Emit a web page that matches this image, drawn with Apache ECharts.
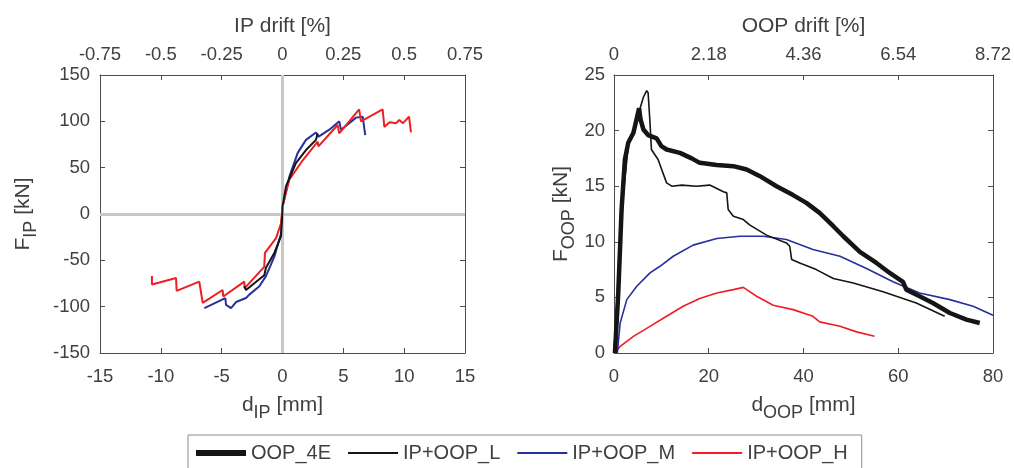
<!DOCTYPE html>
<html>
<head>
<meta charset="utf-8">
<script src="https://cdn.jsdelivr.net/npm/echarts@6/dist/echarts.min.js"></script>
<style>
  html, body { margin: 0; padding: 0; background: #fff; }
  #chart { width: 1014px; height: 468px; }
</style>
</head>
<body>
<div id="chart"></div>
<script>
// in-plane panel: displacement [mm] and force [kN]
const ipL_d = [-3.14, -3.0, -1.5, -1.36, -0.67, -0.12, -0.04, 0, 0.29, 1.1, 1.93, 2.75, 2.89]
const ipL_F = [-78, -82, -66, -58, -42, -24, -6, 8, 30, 55, 69, 80, 87]

const ipM_d = [-6.42, -4.7, -4.64, -4.23, -3.82, -3.0, -2.73, -1.9, -1.36, -0.67, -0.12, 0, 0.56, 1.25, 1.93, 2.75, 2.97, 3.85, 4.67, 4.8, 5.49, 6.04, 6.59, 6.8]
const ipM_F = [-101.5, -90.7, -98, -101.5, -95, -90.7, -87, -78, -67, -46, -21, 8, 40, 66, 80, 88, 83.5, 91, 100, 91, 98, 104, 105, 85]

const ipH_d = [-10.73, -10.73, -8.75, -8.7, -6.84, -6.56, -4.92, -4.87, -3.14, -3.11, -1.5, -1.44, -0.53, -0.12, 0, 0.56, 1.66, 2.89, 2.95, 4.53, 4.66, 6.3, 6.45, 8.23, 8.37, 8.8, 9.33, 9.6, 9.9, 10.4, 10.56]
const ipH_F = [-67, -76, -69, -83, -73, -96, -82, -89, -73, -80, -57, -42, -26, -10, 8, 37, 58, 78, 73, 96, 87, 113, 100, 113, 94, 99, 98, 101.5, 98, 105, 88]

// out-of-plane panel
const oop4E_d = [0.2, 0.9, 1.6, 2.3, 3.0, 4.1, 5.3, 5.6, 6.2, 7.2, 9, 10, 11.1, 13.9, 16.4, 18.1, 21.7, 25.2, 28, 30.8, 34.3, 37.8, 40.6, 43.4, 46.3, 48.4, 51.9, 55.4, 58.2, 61, 61.7, 64.5, 67.3, 70.9, 74.4, 77.2]
const oop4E_F = [0, 5.4, 12.9, 17.4, 18.9, 19.8, 22, 21, 20.1, 19.6, 19.3, 18.6, 18.3, 18, 17.5, 17.1, 16.9, 16.8, 16.5, 15.9, 15, 14.2, 13.5, 12.6, 11.4, 10.5, 9.1, 8.1, 7.2, 6.4, 5.7, 5.1, 4.5, 3.6, 3.0, 2.7]

const oopL_d = [0, 0.9, 2, 3, 4.8, 6.2, 6.9, 7.2, 7.6, 7.9, 9.3, 11.1, 12.2, 14.3, 17.4, 20.2, 23.1, 23.8, 24.1, 25.2, 27.3, 28.7, 32.2, 36.4, 37.1, 37.5, 39.2, 42.7, 46.3, 50.5, 56.8, 63.8, 69.8]
const oopL_F = [0, 6.9, 14.4, 18.6, 21, 23, 23.6, 23.4, 20.7, 18.3, 17.4, 15.3, 15, 15.1, 15, 15.1, 14.5, 14.4, 12.9, 12.3, 12, 11.5, 10.6, 9.9, 9.6, 8.4, 8.1, 7.5, 6.7, 6.3, 5.5, 4.5, 3.3]

const oopM_d = [0.7, 1.3, 2.7, 4.8, 7.6, 9.7, 12.5, 16.7, 21.7, 26.6, 31.5, 36.4, 42, 47.7, 53.3, 58.9, 64.5, 70.9, 75.8, 80]
const oopM_F = [0, 2.7, 4.8, 6, 7.2, 7.8, 8.7, 9.7, 10.3, 10.5, 10.5, 10.2, 9.3, 8.7, 7.6, 6.4, 5.4, 4.8, 4.2, 3.4]

const oopH_d = [0.2, 1.3, 4.1, 7.6, 11.1, 14.6, 18.1, 21.7, 25.2, 27.3, 28, 30.1, 33.6, 37.8, 42, 43.4, 47.7, 51.2, 55]
const oopH_F = [0, 0.6, 1.5, 2.4, 3.3, 4.2, 4.9, 5.4, 5.7, 5.9, 5.7, 5.1, 4.3, 3.9, 3.3, 2.8, 2.4, 1.9, 1.5]

const legendNames = ['OOP_4E', 'IP+OOP_L', 'IP+OOP_M', 'IP+OOP_H']

const FONT = '"Liberation Sans", Arial, sans-serif'
const TXT = '#404040'
const FRAME = '#4d4d4d'

const zip = (xs, ys) => xs.map((x, i) => [x, ys[i]])
const fmt = (v) => String(Math.round(v * 100) / 100)

const nameRich = {
  a: { fontSize: 21, color: TXT, fontFamily: FONT, verticalAlign: 'top' },
  b: { fontSize: 18, color: TXT, fontFamily: FONT, padding: [9, 0, 0, 0] },
}

// common axis look: a closed box, ticks pointing inward
const boxAxis = (extra) => ({
  axisLine: { show: true, onZero: false, lineStyle: { color: FRAME, width: 1 } },
  axisTick: { show: true, inside: true, length: 5, lineStyle: { color: FRAME } },
  axisLabel: { color: TXT, fontSize: 18.5, fontFamily: FONT, formatter: fmt },
  splitLine: { show: false },
  nameTextStyle: { color: TXT, fontSize: 21, fontFamily: FONT, rich: nameRich },
  ...extra,
})

const chart = echarts.init(document.getElementById('chart'))

const line = (name, data, xi, yi, color, width, z) => ({
  name,
  type: 'line',
  data,
  xAxisIndex: xi,
  yAxisIndex: yi,
  symbol: 'none',
  lineStyle: { color, width },
  itemStyle: { color },
  z,
  animation: false,
})

// legend swatches: plain bars, thickness set by the path's aspect ratio
const thick = 'path://M0,0h50v6h-50z'
const thin = 'path://M0,0h50v2h-50z'

const option = {
  backgroundColor: '#fff',
  grid: [
    { left: 100, top: 75, width: 365, height: 278 },
    { left: 614, top: 75, width: 379, height: 278 },
  ],
  xAxis: [
    boxAxis({
      gridIndex: 0, position: 'bottom', min: -15, max: 15, interval: 5,
      name: '{a|d}{b|IP}{a| [mm]}', nameLocation: 'middle', nameGap: 42,
      axisLabel: { color: TXT, fontSize: 18.5, fontFamily: FONT, margin: 14, formatter: fmt },
    }),
    boxAxis({
      gridIndex: 0, position: 'top', min: -0.75, max: 0.75, interval: 0.25,
      name: 'IP drift [%]', nameLocation: 'middle', nameGap: 38,
      axisLabel: { color: TXT, fontSize: 18.5, fontFamily: FONT, margin: 11, formatter: fmt },
    }),
    boxAxis({
      gridIndex: 1, position: 'bottom', min: 0, max: 80, interval: 20,
      name: '{a|d}{b|OOP}{a| [mm]}', nameLocation: 'middle', nameGap: 42,
      axisLabel: { color: TXT, fontSize: 18.5, fontFamily: FONT, margin: 14, formatter: fmt },
    }),
    boxAxis({
      gridIndex: 1, position: 'top', min: 0, max: 8.72, interval: 2.18,
      name: 'OOP drift [%]', nameLocation: 'middle', nameGap: 38,
      axisLabel: { color: TXT, fontSize: 18.5, fontFamily: FONT, margin: 11, formatter: fmt },
    }),
  ],
  yAxis: [
    boxAxis({
      gridIndex: 0, position: 'left', min: -150, max: 150, interval: 50,
      name: '{a|F}{b|IP}{a| [kN]}', nameLocation: 'middle', nameGap: 60,
      axisLabel: { color: TXT, fontSize: 18.5, fontFamily: FONT, margin: 10, formatter: fmt },
    }),
    boxAxis({
      gridIndex: 0, position: 'right', min: -150, max: 150, interval: 50,
      axisLabel: { show: false },
    }),
    boxAxis({
      gridIndex: 1, position: 'left', min: 0, max: 25, interval: 5,
      name: '{a|F}{b|OOP}{a| [kN]}', nameLocation: 'middle', nameGap: 36,
      axisLabel: { color: TXT, fontSize: 18.5, fontFamily: FONT, margin: 9, formatter: fmt },
    }),
    boxAxis({
      gridIndex: 1, position: 'right', min: 0, max: 25, interval: 5,
      axisLabel: { show: false },
    }),
  ],
  legend: {
    data: [
      { name: legendNames[0], icon: thick },
      { name: legendNames[1], icon: thin },
      { name: legendNames[2], icon: thin },
      { name: legendNames[3], icon: thin },
    ],
    left: 188,
    top: 435,
    itemWidth: 50,
    itemHeight: 14,
    itemGap: 17,
    symbolKeepAspect: true,
    padding: [8, 14, 10, 8],
    borderColor: '#8c8c8c',
    borderWidth: 1,
    textStyle: { color: TXT, fontSize: 20, fontFamily: FONT },
    selectedMode: false,
  },
  series: [
    {
      type: 'line',
      data: [],
      xAxisIndex: 0,
      yAxisIndex: 0,
      z: 1,
      silent: true,
      animation: false,
      markLine: {
        silent: true,
        symbol: 'none',
        animation: false,
        label: { show: false },
        lineStyle: { color: '#c8c8c8', width: 3, type: 'solid' },
        data: [{ xAxis: 0 }, { yAxis: 0 }],
      },
    },
    line('IP+OOP_M', zip(ipM_d, ipM_F), 0, 0, '#26319b', 2, 3),
    line('IP+OOP_H', zip(ipH_d, ipH_F), 0, 0, '#f01e23', 2, 4),
    line('IP+OOP_L', zip(ipL_d, ipL_F), 0, 0, '#151515', 2, 5),

    line('IP+OOP_H', zip(oopH_d, oopH_F), 2, 2, '#f01e23', 1.6, 3),
    line('IP+OOP_M', zip(oopM_d, oopM_F), 2, 2, '#26319b', 1.6, 4),
    line('IP+OOP_L', zip(oopL_d, oopL_F), 2, 2, '#151515', 1.6, 5),
    line('OOP_4E', zip(oop4E_d, oop4E_F), 2, 2, '#151515', 4.5, 6),
  ],
}

chart.setOption(option)
</script>
</body>
</html>
